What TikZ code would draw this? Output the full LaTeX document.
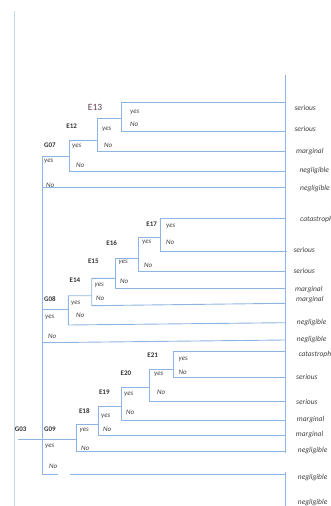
\documentclass[tikz,border=0pt]{standalone}
\usepackage{fontspec}
\setmainfont{Carlito}
\definecolor{lineblue}{RGB}{141,180,226}
\definecolor{paleblue}{RGB}{196,215,240}
\definecolor{txt}{RGB}{64,64,64}
\definecolor{evt}{RGB}{50,50,50}
\definecolor{topevt}{RGB}{95,60,80}
\tikzset{
  branch/.style={draw=lineblue, line width=0.9pt},
  frame/.style={draw=paleblue, line width=1.2pt},
  evlabel/.style={anchor=center, inner sep=0pt, font=\fontsize{7}{8}\selectfont\bfseries, text=evt},
  toplabel/.style={anchor=center, inner sep=0pt, font=\fontsize{9.5}{11}\selectfont, text=topevt},
  ans/.style={anchor=west, inner sep=0pt, font=\fontsize{7}{8}\selectfont\itshape, text=txt},
  outcome/.style={anchor=west, inner sep=0pt, font=\fontsize{7.5}{9}\selectfont\itshape, text=txt}
}
\begin{document}
\begin{tikzpicture}[x=1pt, y=-1pt]
\useasboundingbox (0,0) rectangle (330,506);

% frame lines
\coordinate (frameT) at (14.7,11);
\coordinate (frameB) at (14.7,506);
\draw[frame] (frameT) -- (frameB);
\coordinate (rail) at (285,0);
\coordinate (railT) at (285,75);
\coordinate (railM1) at (285,453);
\coordinate (railM2) at (285,472);
\coordinate (railB) at (285,506);
\draw[branch] (railT) -- (railM1);
\draw[branch] (railM2) -- (railB);

% ---------- G07 branch ----------
\coordinate (E13t) at (121,102.3);  \coordinate (E13b) at (121,131.7);
\coordinate (E12t) at (97.7,118.3); \coordinate (E12b) at (97.7,151);
\coordinate (G07t) at (69,140);     \coordinate (G07b) at (69,171);
\draw[branch] (rail |- E13t) -- (E13t) -- (E13b) -- (rail |- E13b);
\draw[branch] (E13t |- E12t) -- (E12t) -- (E12b) -- (rail |- E12b);
\draw[branch] (E12t |- G07t) -- (G07t) -- (G07b) -- (rail |- G07b);

% ---------- G08 branch ----------
\coordinate (E17t) at (160,218.3);   \coordinate (E17b) at (160,251);
\coordinate (E16t) at (138.3,237.3); \coordinate (E16b) at (138.3,271.7);
\coordinate (E15t) at (115,258.3);   \coordinate (E15b) at (115,288.3);
\coordinate (E14t) at (91.7,278.3);  \coordinate (E14b) at (91.7,305.7);
\coordinate (G08t) at (68.3,295.7);  \coordinate (G08b) at (68.3,325);
\coordinate (E17r) at (286.7,251);
\coordinate (E14r) at (285,303.3);
\coordinate (G08r) at (285,322.7);
\draw[branch] (rail |- E17t) -- (E17t) -- (E17b) -- (E17r);
\draw[branch] (E17t |- E16t) -- (E16t) -- (E16b) -- (rail |- E16b);
\draw[branch] (E16t |- E15t) -- (E15t) -- (E15b) -- (rail |- E15b);
\draw[branch] (E15t |- E14t) -- (E14t) -- (E14b) -- (E14r);
\draw[branch] (E14t |- G08t) -- (G08t) -- (G08b) -- (G08r);

% ---------- G09 branch ----------
\coordinate (E21t) at (173.3,351);   \coordinate (E21b) at (173.3,377.7);
\coordinate (E20t) at (149,369);     \coordinate (E20b) at (149,401);
\coordinate (E19t) at (121.7,387.7); \coordinate (E19b) at (121.7,420);
\coordinate (E18t) at (98.3,406);    \coordinate (E18b) at (98.3,435);
\coordinate (G09t) at (76.7,424);    \coordinate (G09b) at (76.7,451.7);
\draw[branch] (rail |- E21t) -- (E21t) -- (E21b) -- (rail |- E21b);
\draw[branch] (E21t |- E20t) -- (E20t) -- (E20b) -- (rail |- E20b);
\draw[branch] (E20t |- E19t) -- (E19t) -- (E19b) -- (rail |- E19b);
\draw[branch] (E19t |- E18t) -- (E18t) -- (E18b) -- (rail |- E18b);
\draw[branch] (E18t |- G09t) -- (G09t) -- (G09b) -- (rail |- G09b);

% ---------- G03 spine ----------
\coordinate (S07y) at (42.3,156.7); \coordinate (S07n) at (42.3,187.3);
\coordinate (S08y) at (42.3,309);   \coordinate (S08n) at (42.3,342.7);
\coordinate (S09y) at (42.3,439.3); \coordinate (S09n) at (42.3,474.3);
\coordinate (G03s) at (18,439.3);
\coordinate (S08r) at (285,340);
\coordinate (S09gapL) at (58,474.3);
\coordinate (S09gapR) at (70,474.3);
\draw[branch] (S07y) -- (S09n);
\draw[branch] (S07y) -- (G07t |- S07y);
\draw[branch] (S07n) -- (rail |- S07n);
\draw[branch] (S08y) -- (G08t |- S08y);
\draw[branch] (S08n) -- (S08r);
\draw[branch] (G03s) -- (S09y) -- (G09t |- S09y);
\draw[branch] (S09n) -- (S09gapL);
\draw[branch] (S09gapR) -- (rail |- S09n);

% ---------- event labels ----------
\node[toplabel] (lE13) at (95,107) {E13};
\node[evlabel] (lE12) at (71.7,126.7) {E12};
\node[evlabel] (lG07) at (50,145.7) {G07};
\node[evlabel] (lE17) at (151.7,224.3) {E17};
\node[evlabel] (lE16) at (111.7,242.7) {E16};
\node[evlabel] (lE15) at (93.3,261.7) {E15};
\node[evlabel] (lE14) at (75,280) {E14};
\node[evlabel] (lG08) at (50,299) {G08};
\node[evlabel] (lE21) at (152.7,355) {E21};
\node[evlabel] (lE20) at (126,373.3) {E20};
\node[evlabel] (lE19) at (104.3,392.3) {E19};
\node[evlabel] (lE18) at (84.3,410.7) {E18};
\node[evlabel] (lG09) at (50,429.3) {G09};
\node[evlabel] (lG03) at (20.7,429.3) {G03};

% ---------- yes / No labels ----------
\node[ans] (y13) at (130,112.7) {yes};   \node[ans] (n13) at (130,124) {No};
\node[ans] (y12) at (102,129.3) {yes};   \node[ans] (n12) at (104,145) {No};
\node[ans] (y07) at (72,146.7) {yes};    \node[ans] (n07) at (76,165.3) {No};
\node[ans] (y07o) at (44,161.7) {yes};   \node[ans] (n07o) at (46,185) {No};

\node[ans] (y17) at (166,226.7) {yes};   \node[ans] (n17) at (166,242.3) {No};
\node[ans] (y16) at (142,242.7) {yes};   \node[ans] (n16) at (144,265) {No};
\node[ans] (y15) at (118.5,262.7) {yes}; \node[ans] (n15) at (120,281.7) {No};
\node[ans] (y14) at (94.5,285) {yes};    \node[ans] (n14) at (96,298.3) {No};
\node[ans] (y08) at (71,303.3) {yes};    \node[ans] (n08) at (76,315.7) {No};
\node[ans] (y08o) at (45,317.3) {yes};   \node[ans] (n08o) at (48,336) {No};

\node[ans] (y21) at (178.5,359) {yes};   \node[ans] (n21) at (178.5,372.7) {No};
\node[ans] (y20) at (154,374) {yes};     \node[ans] (n20) at (157,392.3) {No};
\node[ans] (y19) at (124,394.3) {yes};   \node[ans] (n19) at (126,412.7) {No};
\node[ans] (y18) at (101,416.7) {yes};   \node[ans] (n18) at (103,429.3) {No};
\node[ans] (y09) at (79.5,430.7) {yes};  \node[ans] (n09) at (81,448.3) {No};
\node[ans] (y09o) at (45,446.7) {yes};   \node[ans] (n09o) at (49,466.7) {No};

% ---------- outcomes ----------
\node[outcome] (o1) at (294.3,108.3) {serious};
\node[outcome] (o2) at (294.3,129.3) {serious};
\node[outcome] (o3) at (296,151.7) {marginal};
\node[outcome] (o4) at (299.3,170.7) {negligible};
\node[outcome] (o5) at (300,189) {negligible};

\node[outcome] (o6) at (300,219.3) {catastrophic};
\node[outcome] (o7) at (293.3,250) {serious};
\node[outcome] (o8) at (293.3,271) {serious};
\node[outcome] (o9) at (295,289.3) {marginal};
\node[outcome] (o10) at (296,299.3) {marginal};
\node[outcome] (o11) at (296.7,322.3) {negligible};
\node[outcome] (o12) at (296.7,340) {negligible};

\node[outcome] (o13) at (298.3,354) {catastrophic};
\node[outcome] (o14) at (296,377.3) {serious};
\node[outcome] (o15) at (296,401.7) {serious};
\node[outcome] (o16) at (296.7,419.3) {marginal};
\node[outcome] (o17) at (295.7,435) {marginal};
\node[outcome] (o18) at (297.7,451) {negligible};
\node[outcome] (o19) at (297.7,477.3) {negligible};
\node[outcome] (o20) at (297.7,502.3) {negligible};
\end{tikzpicture}
\end{document}
